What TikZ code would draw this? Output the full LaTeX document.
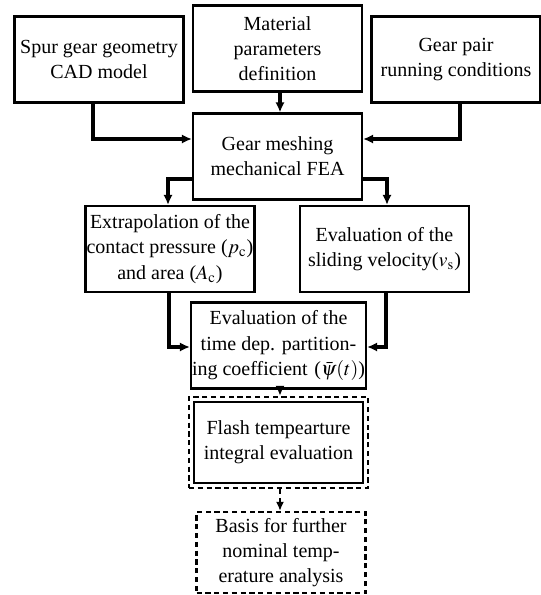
\documentclass[tikz,border=0pt]{standalone}
\usepackage{mathptmx}
\usepackage{fontspec}
\setmainfont{Liberation Serif}
\usetikzlibrary{arrows.meta,fit,calc}

\begin{document}
\begin{tikzpicture}[
    x=0.5pt, y=-0.5pt,
    box/.style={rectangle, draw=black, line width=1.1pt, minimum width=84.5pt,
                minimum height=43pt, inner sep=0.5pt, align=center,
                font=\fontsize{10}{12.6}\selectfont},
    dbox/.style={box, dash pattern=on 2.6pt off 1.8pt},
    arrow/.style={-{Latex[length=5pt,width=4.6pt]}, line width=1.6pt, black},
    darrow/.style={-{Latex[length=4.5pt,width=4pt]}, line width=1.1pt, black,
                   dash pattern=on 2.6pt off 1.8pt}
]
\useasboundingbox (0,0) rectangle (541,595);
% inputs
\node[box] (spur) at (99,59.5) {Spur gear geometry\\CAD model};
\node[box] (material) at (277.5,48.5) {Material\\parameters\\definition};
\node[box] (running) at (456,59.5) {Gear pair\\running conditions};
% fea
\node[box] (fea) at (277.5,156.5) {Gear meshing\\mechanical FEA};
\node[box] (extrap) at (170,249) {Extrapolation of the\\contact pressure ($p_\mathrm{c}$)\\and area ($A_\mathrm{c}$)};
\node[box] (sliding) at (384.5,249) {Evaluation of the\\sliding velocity($v_\mathrm{s}$)};
\node[box] (partition) at (278.5,345.5) {Evaluation of the\\time dep. partition-\\ing coefficient\,\,($\bar{\psi}(t)$)};
% flash temperature
\node[box, minimum height=40.5pt] (flash) at (278.5,442.5) {Flash tempearture\\integral evaluation};
\node[draw=black, line width=1.1pt, dash pattern=on 2.6pt off 1.8pt, inner sep=2pt,
      fit=(flash)] (flashfit) {};
\node[dbox, minimum height=40.5pt] (basis) at (281,552.5) {Basis for further\\nominal temp-\\erature analysis};

\draw[arrow] ([xshift=-3pt]spur.south) |- ([yshift=8.75pt]fea.west);
\draw[arrow] ([xshift=2pt]running.south) |- ([yshift=8.75pt]fea.east);
\draw[arrow] ([xshift=1.25pt]material.south) -- ([xshift=1.25pt]fea.north);
\draw[arrow] ([yshift=-11.25pt]fea.west) -| ([xshift=-1pt]extrap.north);
\draw[arrow] ([yshift=-11.25pt]fea.east) -| ([xshift=1.25pt]sliding.north);
\draw[arrow] ([xshift=-0.5pt]extrap.south) |- ([yshift=-0.75pt]partition.west);
\draw[arrow] ([xshift=0.75pt]sliding.south) |- ([yshift=-0.75pt]partition.east);
\draw[arrow] ([xshift=0.75pt]partition.south) -- ([xshift=0.75pt]flashfit.north);
\draw[darrow] ([xshift=0.75pt]flashfit.south) -- ([xshift=-0.5pt]basis.north);
\end{tikzpicture}
\end{document}
